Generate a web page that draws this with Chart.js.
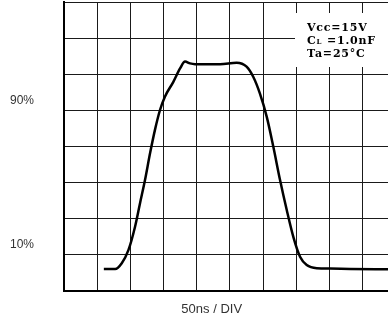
<!DOCTYPE html>
<html>
<head>
<meta charset="utf-8">
<script src="https://cdn.jsdelivr.net/npm/chart.js@4"></script>
<style>
  html, body { margin: 0; padding: 0; background: #fff; }
  #wrap { width: 388px; height: 318px; }
</style>
</head>
<body>
<div id="wrap"><canvas id="scopeChart" width="388" height="318"></canvas></div>
<script>
// waveform (x in ns, y in divisions)
const timeNs = [60, 77, 87, 97, 107, 114.5, 122, 129.6, 137, 144.6, 152, 164.7, 174.8, 182.3, 189.8, 197.4, 212, 235, 260, 275, 285, 295, 305.4, 315.3, 325.4, 335.5, 345.4, 355.5, 365.6, 380.7, 400.7, 431, 488];
const level  = [0.61, 0.61, 0.77, 1.13, 1.78, 2.43, 3.07, 3.81, 4.46, 5.01, 5.38, 5.79, 6.16, 6.35, 6.30, 6.28, 6.28, 6.28, 6.32, 6.21, 5.93, 5.47, 4.82, 3.99, 3.07, 2.24, 1.50, 0.95, 0.72, 0.63, 0.62, 0.61, 0.60];

const gridDivs = [0, 1, 2, 3, 4, 5, 6, 7, 8];
const markerLabels = ['90%', '10%'];
const markerLevels = [5.26, 1.29];
const noteLines = ['Vcc=15V', 'CL =1.0nF', 'Ta=25°C'];
const xAxisLabel = '50ns / DIV';

const points = timeNs.map((t, i) => ({ x: t, y: level[i] }));

// white box with test conditions + x caption
const notesPlugin = {
    id: 'notes',
    beforeDatasetsDraw(chart) {
        const { ctx, chartArea } = chart;
        ctx.save();
        ctx.fillStyle = '#fff';
        ctx.fillRect(chartArea.right - 93, 13, 93, 54);
        ctx.restore();
    },
    afterDraw(chart) {
        const { ctx, chartArea } = chart;
        const left = chartArea.right - 81;
        const baselines = [30.5, 43.5, 57];
        ctx.save();
        ctx.fillStyle = '#000';
        ctx.textBaseline = 'alphabetic';
        ctx.textAlign = 'left';
        ctx.letterSpacing = '0.8px';
        const big = 'bold 11px "DejaVu Serif"';
        const small = 'bold 7px "DejaVu Serif"';
        ctx.font = big;
        ctx.fillText(noteLines[0], left, baselines[0]);
        // C with small L
        let x = left;
        ctx.fillText('C', x, baselines[1]);
        x += ctx.measureText('C').width;
        ctx.font = small;
        ctx.fillText('L', x, baselines[1]);
        x += ctx.measureText('L').width;
        ctx.font = big;
        ctx.fillText(noteLines[1].slice(2), x, baselines[1]);
        ctx.fillText(noteLines[2], left, baselines[2]);

        ctx.letterSpacing = '0px';
        ctx.font = '13px "Liberation Sans", Arial, sans-serif';
        ctx.fillStyle = '#333';
        ctx.textAlign = 'center';
        ctx.textBaseline = 'middle';
        ctx.fillText(xAxisLabel, 211.7, 309.5);
        ctx.restore();
    }
};

new Chart(document.getElementById('scopeChart').getContext('2d'), {
    type: 'line',
    data: {
        datasets: [{
            data: points,
            borderColor: '#000',
            borderWidth: 2.5,
            pointRadius: 0,
            fill: false,
            cubicInterpolationMode: 'monotone'
        }]
    },
    options: {
        responsive: false,
        animation: false,
        layout: { padding: { top: 2, right: 0, left: 0, bottom: 0 } },
        plugins: {
            legend: { display: false },
            tooltip: { enabled: false }
        },
        scales: {
            x: {
                type: 'linear',
                min: 0,
                max: 488,
                ticks: { display: false, stepSize: 50, includeBounds: false },
                grid: { color: '#1a1a1a', lineWidth: 1, drawTicks: false },
                border: { display: true, color: '#000', width: 2 },
                afterFit: scale => {
                    scale.height = 27;
                    scale.paddingLeft = 0;
                    scale.paddingRight = 0;
                }
            },
            y: {
                min: 0,
                max: 8,
                afterBuildTicks: scale => {
                    scale.ticks = gridDivs.concat(markerLevels)
                        .sort((a, b) => a - b)
                        .map(v => ({ value: v }));
                },
                ticks: {
                    autoSkip: false,
                    padding: 30,
                    color: '#333',
                    font: { family: '"Liberation Sans", Arial, sans-serif', size: 12 },
                    callback: value => {
                        const i = markerLevels.indexOf(value);
                        return i >= 0 ? markerLabels[i] : '';
                    }
                },
                grid: {
                    drawTicks: false,
                    lineWidth: 1,
                    color: ctx => Number.isInteger(ctx.tick.value) ? '#1a1a1a' : 'rgba(0,0,0,0)'
                },
                border: { display: true, color: '#000', width: 2 },
                afterFit: scale => {
                    scale.width = 64;
                    scale.paddingTop = 0;
                    scale.paddingBottom = 0;
                }
            }
        }
    },
    plugins: [notesPlugin]
});
</script>
</body>
</html>
